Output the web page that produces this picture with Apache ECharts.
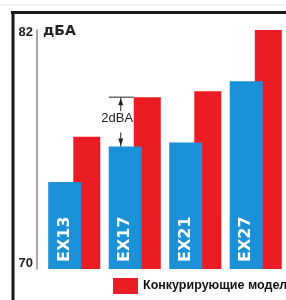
<!DOCTYPE html>
<html>
<head>
<meta charset="utf-8">
<script src="https://cdn.jsdelivr.net/npm/echarts@6/dist/echarts.min.js"></script>
<style>
html, body { margin: 0; padding: 0; background: #fff; }
#chart { width: 286px; height: 300px; }
</style>
</head>
<body>
<div id="chart"></div>
<script>
var categories = ['EX13', 'EX17', 'EX21', 'EX27'];
var exValues = [74.4, 76.2, 76.4, 79.5];
var rivalValues = [76.7, 78.7, 79.0, 82.1];
var yMin = 70;
var yMax = 82;

var narrow = '"Liberation Sans Narrow", "Liberation Sans", sans-serif';

var dom = document.getElementById('chart');
var myChart = echarts.init(dom);

var option = {
    animation: false,
    backgroundColor: '#fff',
    title: {
        text: 'дБА',
        left: 43,
        top: 24,
        padding: 0,
        textStyle: { fontFamily: 'DejaVu Sans', fontWeight: 'bold', fontSize: 14, color: '#222' }
    },
    legend: {
        data: ['Конкурирующие модели'],
        left: 113,
        top: 278,
        padding: 0,
        itemWidth: 25,
        itemHeight: 16,
        icon: 'rect',
        textStyle: { fontFamily: 'Liberation Sans', fontWeight: 'bold', fontSize: 12.5, color: '#111' }
    },
    grid: { left: 44, right: 0, top: 30, bottom: 31 },
    xAxis: {
        type: 'category',
        data: categories,
        axisLine: { show: false },
        axisTick: { show: false },
        axisLabel: { show: false }
    },
    yAxis: {
        type: 'value',
        min: yMin,
        max: yMax + 0.1,
        interval: yMax - yMin,
        offset: 7,
        splitLine: { show: false },
        axisTick: { show: false },
        axisLine: { show: true, lineStyle: { color: '#888', width: 1.5 } },
        axisLabel: {
            margin: 4,
            showMaxLabel: false,
            formatter: function (v) {
                if (v === yMin) return '{lo|' + v + '}';
                if (v === yMax) return '{hi|' + v + '}';
                return '';
            },
            rich: {
                lo: { fontFamily: narrow, fontSize: 13, fontWeight: 'bold', color: '#222', padding: [0, 0, 12, 0] },
                hi: { fontFamily: narrow, fontSize: 13, fontWeight: 'bold', color: '#222' }
            }
        }
    },
    series: [
        {
            name: 'EX',
            type: 'bar',
            data: exValues,
            barWidth: 33,
            barGap: '-24%',
            z: 3,
            itemStyle: { color: '#1b92d8' },
            label: {
                show: true,
                position: 'insideBottom',
                rotate: 90,
                align: 'left',
                verticalAlign: 'middle',
                distance: 7,
                formatter: '{b}',
                color: '#fff',
                fontFamily: 'DejaVu Sans',
                fontWeight: 'bold',
                fontSize: 16
            }
        },
        {
            name: 'Конкурирующие модели',
            type: 'bar',
            data: rivalValues,
            barWidth: 27,
            z: 2,
            itemStyle: { color: '#ec1c24' }
        }
    ]
};
myChart.setOption(option);

// frame and the 2 dBA dimension mark, placed from the data
var redTop = myChart.convertToPixel({ gridIndex: 0 }, ['EX17', rivalValues[1]]);
var blueTop = myChart.convertToPixel({ gridIndex: 0 }, ['EX17', exValues[1]]);
var x0 = redTop[0] - 26;
var ax = x0 + 12;
var y1 = redTop[1];
var y2 = blueTop[1];
var dark = '#222';

myChart.setOption({
    graphic: [
        { type: 'line', shape: { x1: 0, y1: 5, x2: 286, y2: 5 }, style: { stroke: '#e2e2e2', lineWidth: 1 } },
        { type: 'line', shape: { x1: 11, y1: 12.5, x2: 286, y2: 12.5 }, style: { stroke: '#1a1a1a', lineWidth: 3 } },
        { type: 'line', shape: { x1: 13, y1: 11, x2: 13, y2: 300 }, style: { stroke: '#1a1a1a', lineWidth: 3 } },
        { type: 'line', shape: { x1: x0, y1: y1, x2: x0 + 25, y2: y1 }, style: { stroke: dark, lineWidth: 1 }, z: 10 },
        { type: 'line', shape: { x1: ax, y1: y1, x2: ax, y2: y1 + 14 }, style: { stroke: dark, lineWidth: 1 }, z: 10 },
        { type: 'polygon', shape: { points: [[ax, y1 + 1], [ax - 2.5, y1 + 8], [ax + 2.5, y1 + 8]] }, style: { fill: dark }, z: 10 },
        { type: 'line', shape: { x1: ax, y1: y2 - 14, x2: ax, y2: y2 }, style: { stroke: dark, lineWidth: 1 }, z: 10 },
        { type: 'polygon', shape: { points: [[ax, y2 - 1], [ax - 2.5, y2 - 8], [ax + 2.5, y2 - 8]] }, style: { fill: dark }, z: 10 },
        {
            type: 'text', x: ax - 3.5, y: (y1 + y2) / 2 - 3, z: 10,
            style: { text: '2dBA', fontFamily: narrow, fontSize: 13, fill: dark, align: 'center', verticalAlign: 'middle' }
        }
    ]
});
</script>
</body>
</html>
